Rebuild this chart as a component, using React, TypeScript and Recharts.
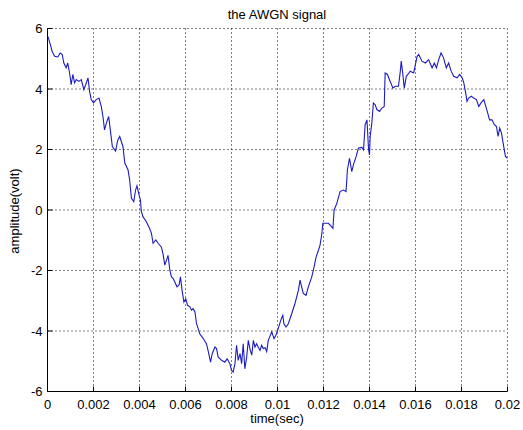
import { LineChart, Line, XAxis, YAxis, CartesianGrid } from "recharts";

// time axis in seconds
const timeSec = [
  0, 0.00004, 0.00013, 0.0002, 0.00031, 0.00045, 0.00055, 0.00064, 0.00071, 0.00081,
  0.00088, 0.00096, 0.00103, 0.0011, 0.00118, 0.00125, 0.00136, 0.00147, 0.00158, 0.00166,
  0.00176, 0.00183, 0.0019, 0.002, 0.00212, 0.00224, 0.00234, 0.00241, 0.00248, 0.00256,
  0.00266, 0.00273, 0.00282, 0.00296, 0.00305, 0.00314, 0.00328, 0.00336, 0.0035, 0.00357,
  0.00365, 0.00375, 0.00383, 0.00389, 0.00398, 0.00404, 0.00408, 0.00415, 0.0043, 0.00444,
  0.00452, 0.00459, 0.00471, 0.00481, 0.00495, 0.00502, 0.0051, 0.0052, 0.00524, 0.00532,
  0.00539, 0.00546, 0.00553, 0.00563, 0.00572, 0.00578, 0.00585, 0.00593, 0.00601, 0.00609,
  0.00619, 0.00626, 0.00633, 0.00641, 0.00648, 0.00655, 0.00662, 0.00677, 0.00691, 0.00698,
  0.00709, 0.00716, 0.00728, 0.00735, 0.00742, 0.00757, 0.00771, 0.00781, 0.00793, 0.008,
  0.00807, 0.00815, 0.00822, 0.00829, 0.00837, 0.00844, 0.00851, 0.00858, 0.00866, 0.00873,
  0.0088, 0.00888, 0.00895, 0.00902, 0.00909, 0.00916, 0.00924, 0.00931, 0.00938, 0.00946,
  0.00953, 0.0096, 0.00975, 0.00985, 0.00993, 0.01003, 0.01014, 0.01023, 0.01028, 0.01037,
  0.01047, 0.01062, 0.01076, 0.01091, 0.01098, 0.01105, 0.01112, 0.01124, 0.01134, 0.01149,
  0.01159, 0.01168, 0.01178, 0.01185, 0.01193, 0.01197, 0.01207, 0.01221, 0.01229, 0.01241,
  0.01246, 0.01258, 0.01272, 0.01287, 0.01298, 0.01304, 0.01313, 0.01323, 0.0133, 0.01342,
  0.01352, 0.01367, 0.01374, 0.01381, 0.01389, 0.01396, 0.014, 0.01403, 0.0141, 0.01417,
  0.01425, 0.01432, 0.01444, 0.01454, 0.01464, 0.01468, 0.01478, 0.0149, 0.01502, 0.01512,
  0.01526, 0.01534, 0.01538, 0.01546, 0.01551, 0.0156, 0.01567, 0.01577, 0.01592, 0.01607,
  0.01614, 0.01628, 0.01643, 0.01657, 0.01672, 0.01682, 0.01691, 0.01701, 0.01711, 0.01722,
  0.01734, 0.01744, 0.01755, 0.01766, 0.01781, 0.01792, 0.01803, 0.0181, 0.01817, 0.01824,
  0.01831, 0.01843, 0.01853, 0.01865, 0.01875, 0.01885, 0.01897, 0.01912, 0.01922, 0.01933,
  0.01943, 0.01952, 0.01959, 0.01966, 0.01974, 0.01981, 0.01991, 0.02,
];

// amplitude in volts
const amplitude = [
  5.75, 5.69, 5.45, 5.25, 5.08, 5.06, 5.19, 5.14, 4.86, 4.7,
  4.86, 4.53, 4.14, 4.48, 4.2, 4.31, 4.25, 4.31, 3.98, 4.14,
  4.37, 3.92, 3.65, 3.54, 3.65, 3.7, 3.42, 3.09, 2.65, 2.87,
  3.09, 2.65, 2.1, 1.95, 2.3, 2.43, 2.1, 1.55, 1.33, 1.0,
  0.39, 0.28, 0.66, 0.8, 0.5, 0.33, -0.05, -0.22, -0.39, -0.61,
  -0.77, -1.1, -0.99, -1.1, -1.22, -1.44, -1.82, -1.6, -1.5, -1.99,
  -2.21, -2.26, -2.37, -2.54, -2.48, -2.21, -2.65, -3.04, -2.93, -3.15,
  -3.2, -3.31, -3.26, -3.37, -3.76, -3.92, -4.09, -4.25, -4.42, -4.64,
  -5.03, -4.75, -4.53, -4.58, -4.86, -4.97, -5.03, -4.92, -5.08, -5.3,
  -5.36, -5.08, -4.47, -4.97, -4.75, -5.08, -4.42, -5.25, -4.86, -4.31,
  -4.58, -4.8, -4.31, -4.53, -4.42, -4.53, -4.64, -4.47, -4.58, -4.55,
  -4.68, -4.31, -4.03, -4.25, -4.14, -3.92, -3.65, -3.48, -3.76, -3.87,
  -3.76, -3.42, -3.09, -2.65, -2.32, -2.54, -2.76, -2.82, -2.54, -2.21,
  -1.88, -1.55, -1.33, -1.16, -0.77, -0.44, -0.44, -0.44, -0.5, -0.61,
  0.0, 0.22, 0.61, 0.66, 0.61, 1.33, 1.71, 1.27, 1.49, 1.77,
  2.05, 2.07, 1.99, 2.82, 2.98, 1.99, 1.82, 2.43, 2.87, 3.54,
  3.48, 3.32, 3.26, 3.37, 3.42, 4.53, 4.48, 4.25, 4.03, 4.09,
  4.09, 4.59, 4.92, 4.42, 4.03, 4.42, 4.48, 4.59, 4.53, 5.08,
  5.14, 4.92, 4.86, 4.97, 4.7, 4.86, 4.7, 4.97, 5.19, 5.03,
  4.7, 4.86, 4.59, 4.42, 4.37, 4.48, 4.37, 4.2, 3.92, 3.59,
  3.7, 3.76, 3.7, 3.65, 3.42, 3.54, 3.65, 3.26, 2.98, 2.98,
  2.82, 2.76, 2.43, 2.71, 2.54, 2.21, 1.77, 1.71,
];

const xTicks = [0, 0.002, 0.004, 0.006, 0.008, 0.01, 0.012, 0.014, 0.016, 0.018, 0.02];
const yTicks = [-6, -4, -2, 0, 2, 4, 6];

const data = timeSec.map((t, i) => ({ t, v: amplitude[i] }));

const FONT = '"Liberation Sans", Arial, sans-serif';
const TICK_LEN = 5;

// matlab style: ticks point into the box
function BottomTick(props: any) {
  const { x, y, payload } = props;
  return (
    <g>
      <line x1={x} x2={x} y1={y} y2={y - TICK_LEN} stroke="#000" />
      <text x={x} y={y + 17} textAnchor="middle" fontSize={13} fontFamily={FONT} fill="#000">
        {String(payload.value)}
      </text>
    </g>
  );
}

function TopTick(props: any) {
  const { x, y } = props;
  return <line x1={x} x2={x} y1={y} y2={y + TICK_LEN} stroke="#000" />;
}

function LeftTick(props: any) {
  const { x, y, payload } = props;
  return (
    <g>
      <line x1={x} x2={x + TICK_LEN} y1={y} y2={y} stroke="#000" />
      <text x={x - 5} y={y} dy="0.36em" textAnchor="end" fontSize={13} fontFamily={FONT} fill="#000">
        {String(payload.value)}
      </text>
    </g>
  );
}

function RightTick(props: any) {
  const { x, y } = props;
  return <line x1={x} x2={x - TICK_LEN} y1={y} y2={y} stroke="#000" />;
}

export default function App() {
  return (
    <div style={{ position: "relative", width: 523, height: 430, background: "#fff", fontFamily: FONT }}>
      <style>{`body { margin: 0; background: #fff; }`}</style>
      <LineChart
        width={523}
        height={430}
        data={data}
        margin={{ top: 28.5, right: 15.5, bottom: 0, left: 0 }}
      >
        <CartesianGrid stroke="#000" strokeDasharray="1 3" />
        <XAxis
          dataKey="t"
          type="number"
          domain={[0, 0.02]}
          ticks={xTicks}
          interval={0}
          height={38.5}
          tickSize={0}
          tickMargin={0}
          tickLine={false}
          axisLine={{ stroke: "#000" }}
          tick={<BottomTick />}
          allowDataOverflow
        />
        <XAxis
          xAxisId="top"
          orientation="top"
          dataKey="t"
          type="number"
          domain={[0, 0.02]}
          ticks={xTicks}
          interval={0}
          height={0}
          tickSize={0}
          tickMargin={0}
          tickLine={false}
          axisLine={{ stroke: "#000" }}
          tick={<TopTick />}
          allowDataOverflow
        />
        <YAxis
          type="number"
          domain={[-6, 6]}
          ticks={yTicks}
          interval={0}
          width={47.5}
          tickSize={0}
          tickMargin={0}
          tickLine={false}
          axisLine={{ stroke: "#000" }}
          tick={<LeftTick />}
          allowDataOverflow
        />
        <YAxis
          yAxisId="right"
          orientation="right"
          type="number"
          domain={[-6, 6]}
          ticks={yTicks}
          interval={0}
          width={0}
          tickSize={0}
          tickMargin={0}
          tickLine={false}
          axisLine={{ stroke: "#000" }}
          tick={<RightTick />}
          allowDataOverflow
        />
        <Line
          xAxisId="top"
          yAxisId="right"
          dataKey="v"
          stroke="none"
          dot={false}
          isAnimationActive={false}
        />
        <Line
          type="linear"
          dataKey="v"
          stroke="#1c1cc0"
          strokeWidth={1.1}
          dot={false}
          activeDot={false}
          isAnimationActive={false}
        />
      </LineChart>
      <svg
        width={523}
        height={430}
        style={{ position: "absolute", left: 0, top: 0, pointerEvents: "none" }}
      >
        <text x={277} y={19} textAnchor="middle" fontSize={13} fontFamily={FONT} fill="#000">
          the AWGN signal
        </text>
        <text x={277} y={423} textAnchor="middle" fontSize={13} fontFamily={FONT} fill="#000">
          time(sec)
        </text>
        <text
          x={0}
          y={0}
          transform="translate(19 211) rotate(-90)"
          textAnchor="middle"
          fontSize={13}
          fontFamily={FONT}
          fill="#000"
        >
          amplitude(volt)
        </text>
      </svg>
    </div>
  );
}
